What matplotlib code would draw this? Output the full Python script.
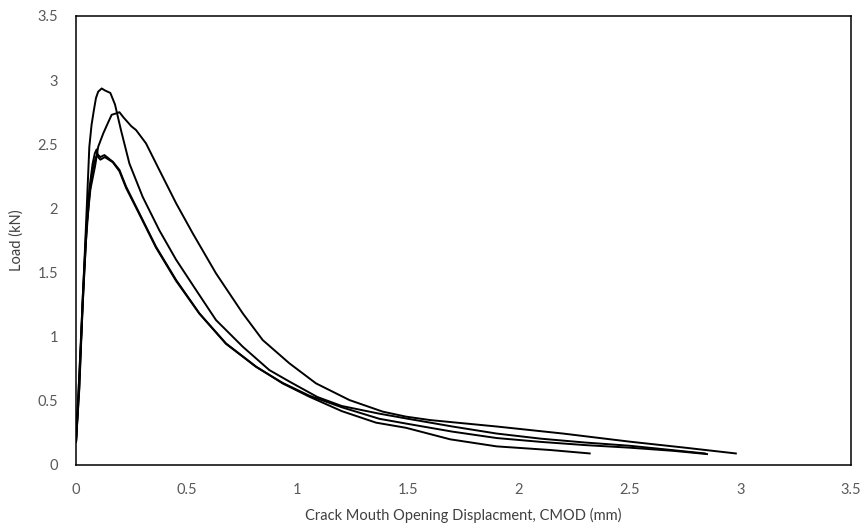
import matplotlib
matplotlib.use('Agg')
import matplotlib.pyplot as plt

plt.rcParams['font.family'] = ['Lato', 'DejaVu Sans']

# CMOD (mm) and load (kN), one pair of lists per specimen
cmod_a = [0, 0.012, 0.025, 0.037, 0.048, 0.06, 0.07, 0.08, 0.09, 0.1, 0.116, 0.13,
          0.155, 0.176, 0.203, 0.241, 0.301, 0.376, 0.452, 0.542, 0.632, 0.753,
          0.873, 0.964, 1.09, 1.2, 1.37, 1.5, 1.7, 1.9, 2.1, 2.3, 2.5, 2.7, 2.84]
load_a = [0.18, 0.6, 1.1, 1.55, 1.99, 2.48, 2.65, 2.76, 2.86, 2.91, 2.935, 2.92,
          2.90, 2.81, 2.61, 2.35, 2.09, 1.83, 1.60, 1.364, 1.13, 0.922,
          0.74, 0.65, 0.53, 0.46, 0.40, 0.36, 0.30, 0.245, 0.205, 0.175, 0.15, 0.115, 0.09]

cmod_b = [0, 0.012, 0.025, 0.037, 0.05, 0.065, 0.086, 0.1, 0.123, 0.145, 0.161, 0.18,
          0.196, 0.214, 0.25, 0.271, 0.316, 0.376, 0.452, 0.527, 0.632, 0.753, 0.843,
          0.964, 1.084, 1.235, 1.385, 1.49, 1.6, 1.9, 2.2, 2.5, 2.75, 2.98]
load_b = [0.18, 0.6, 1.05, 1.5, 1.9, 2.15, 2.33, 2.48, 2.585, 2.67, 2.73, 2.74,
          2.75, 2.71, 2.64, 2.611, 2.507, 2.30, 2.04, 1.806, 1.494, 1.182, 0.974,
          0.792, 0.636, 0.506, 0.416, 0.377, 0.35, 0.30, 0.245, 0.182, 0.135, 0.09]

cmod_c = [0, 0.015, 0.03, 0.045, 0.06, 0.07, 0.08, 0.09, 0.098, 0.11, 0.128, 0.166,
          0.196, 0.226, 0.286, 0.361, 0.452, 0.557, 0.677, 0.813, 0.933,
          1.054, 1.2, 1.355, 1.49, 1.69, 1.9, 2.14, 2.32]
load_c = [0.18, 0.6, 1.25, 1.75, 2.09, 2.25, 2.34, 2.40, 2.42, 2.40, 2.416, 2.364,
          2.30, 2.17, 1.962, 1.702, 1.442, 1.182, 0.948, 0.767, 0.636,
          0.532, 0.42, 0.33, 0.29, 0.20, 0.145, 0.117, 0.09]

cmod_d = [0, 0.015, 0.03, 0.045, 0.06, 0.075, 0.085, 0.093, 0.1, 0.11, 0.13, 0.166,
          0.196, 0.226, 0.286, 0.361, 0.452, 0.557, 0.677, 0.813, 0.933,
          1.054, 1.2, 1.37, 1.5, 1.7, 1.9, 2.1, 2.3, 2.5, 2.7, 2.85]
load_d = [0.18, 0.62, 1.3, 1.8, 2.15, 2.35, 2.43, 2.46, 2.40, 2.38, 2.40, 2.36,
          2.29, 2.16, 1.955, 1.695, 1.435, 1.18, 0.945, 0.765, 0.64,
          0.54, 0.45, 0.36, 0.32, 0.26, 0.21, 0.18, 0.155, 0.135, 0.11, 0.085]

ticks = [0, 0.5, 1, 1.5, 2, 2.5, 3, 3.5]
tick_labels = ['0', '0.5', '1', '1.5', '2', '2.5', '3', '3.5']

fig = plt.figure(figsize=(8.67, 5.29), dpi=100)
ax = fig.add_axes([0.0877, 0.121, 0.8938, 0.8488])

for x, y in [(cmod_a, load_a), (cmod_b, load_b), (cmod_c, load_c), (cmod_d, load_d)]:
    ax.plot(x, y, '-', color='black', lw=1.4)

ax.set_xlim(0, 3.5)
ax.set_ylim(0, 3.5)
ax.set_xticks(ticks)
ax.set_xticklabels(tick_labels)
ax.set_yticks(ticks)
ax.set_yticklabels(tick_labels)
ax.tick_params(length=0, labelsize=10.5, labelcolor='#595959', pad=13)

for sp in ax.spines.values():
    sp.set_color('black')
    sp.set_linewidth(1.1)

ax.set_xlabel('Crack Mouth Opening Displacment, CMOD (mm)', fontsize=10.5,
              color='#404040', labelpad=8)
ax.set_ylabel('Load (kN)', fontsize=10.5, color='#404040', labelpad=10)

plt.savefig('out.png', dpi=100)
